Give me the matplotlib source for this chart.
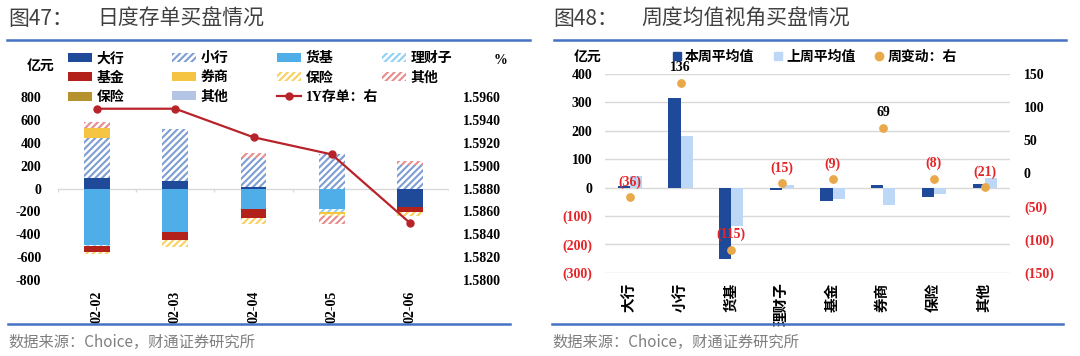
import numpy as np
import matplotlib
matplotlib.use("Agg")
import matplotlib.pyplot as plt
from matplotlib.lines import Line2D

plt.rcParams['font.family'] = ['Liberation Serif', 'Noto Sans CJK SC']
plt.rcParams['font.weight'] = 'bold'
plt.rcParams['axes.unicode_minus'] = False
plt.rcParams['hatch.linewidth'] = 1.5

# ---- data: left chart (daily) ----
dates = ['02-02', '02-03', '02-04', '02-05', '02-06']
big_bank = [95, 65, 15, 0, -165]
small_bank = [350, 455, 250, 305, 210]
money_fund = [-493, -380, -182, -176, 0]
wealth_sub = [-12, 0, 0, -30, 0]
fund = [-50, -70, -76, 0, -38]
broker = [90, 0, 0, -14, 0]
insurance_h = [-20, -65, -50, -20, -35]
other_h = [45, 0, 43, -68, 35]
insurance_s = [0, 0, 0, 0, 0]
other_s = [0, 0, 0, 0, 0]
cd_1y = [1.5950, 1.5950, 1.5925, 1.5910, 1.5850]

# ---- data: right chart (weekly avg) ----
cats = ['大行', '小行', '货基', '理财子', '基金', '券商', '保险', '其他']
this_week = [4, 316, -250, -7, -48, 8, -32, 12]
last_week = [40, 180, -135, 8, -39, -61, -24, 33]
wk_change = [-36, 136, -115, -15, -9, 69, -8, -21]

W, H = 1080, 356
fig = plt.figure(figsize=(W / 100, H / 100), dpi=100)

DARK = '#1F4A9A'
RED_TXT = '#E3262A'
GRID = '#D9D9D9'
NUM = dict(family='Liberation Serif', weight='bold', size=10)


def paren(v):
    return f'({abs(int(v))})' if v < 0 else f'{int(v)}'


# ================= left chart =================
ax1 = fig.add_axes([58 / W, 1 - 280 / H, 391 / W, 182.7 / H])
x = np.arange(len(dates))
series = [
    ('大行', big_bank, DARK, None),
    ('小行', small_bank, '#7D9ED3', '/////'),
    ('货基', money_fund, '#4FADE8', None),
    ('理财子', wealth_sub, '#8ED0F4', '/////'),
    ('基金', fund, '#B3221A', None),
    ('券商', broker, '#F5C443', None),
    ('保险', insurance_h, '#F7D15E', '/////'),
    ('其他', other_h, '#E88C8C', '/////'),
    ('保险', insurance_s, '#B8912F', None),
    ('其他', other_s, '#B4C4E4', None),
]
pos = np.zeros(len(dates))
neg = np.zeros(len(dates))
bars = []
for name, vals, col, hatch in series:
    v = np.array(vals, dtype=float)
    bottom = np.where(v >= 0, pos, neg)
    if hatch:
        b = ax1.bar(x, v, 0.33, bottom=bottom, color='white', edgecolor=col,
                    hatch=hatch, linewidth=0, label=name)
    else:
        b = ax1.bar(x, v, 0.33, bottom=bottom, color=col, linewidth=0, label=name)
    bars.append(b)
    pos = pos + np.where(v > 0, v, 0)
    neg = neg + np.where(v < 0, v, 0)

ax1.axhline(0, color=GRID, lw=1, zorder=0)
ax1.vlines(np.arange(-0.5, len(dates), 1), -25, 0, color=GRID, lw=1)
ax1.set_xlim(-0.5, len(dates) - 0.5)
ax1.set_ylim(-800, 800)
ax1.set_yticks(range(-800, 801, 200))
ax1.set_yticklabels([str(t) for t in range(-800, 801, 200)], **NUM)
ax1.set_xticks(x)
ax1.set_xticklabels(dates, rotation=90, **NUM)
ax1.tick_params(axis='y', length=0, pad=12)
ax1.tick_params(axis='x', length=0, pad=8)
for s in ax1.spines.values():
    s.set_visible(False)

ax1r = ax1.twinx()
line, = ax1r.plot(x, cd_1y, color='#B8232A', lw=1.6, marker='o', ms=5,
                  label='1Y存单：右')
ax1r.set_ylim(1.58, 1.596)
rt = [1.58 + 0.002 * i for i in range(9)]
ax1r.set_yticks(rt)
ax1r.set_yticklabels([f'{t:.4f}' for t in rt], **NUM)
ax1r.tick_params(axis='y', length=0, pad=10)
for s in ax1r.spines.values():
    s.set_visible(False)

# legend laid out by columns like the original
cols = [[0, 4, 8], [1, 5, 9], [2, 6, 'line'], [3, 7]]
col_x = [68, 172, 277, 382]
for cx, idxs in zip(col_x, cols):
    hs = [line if i == 'line' else bars[i] for i in idxs]
    ls = ['1Y存单：右' if i == 'line' else series[i][0] for i in idxs]
    fig.legend(hs, ls, loc='upper left', bbox_to_anchor=(cx / W, 1 - 52 / H),
               frameon=False, fontsize=10, handlelength=1.75, handleheight=0.6,
               handletextpad=0.3, labelspacing=0.45, borderpad=0, borderaxespad=0)

fig.text(27 / W, 1 - 66 / H, '亿元', fontsize=10, ha='left', va='center')
fig.text(494 / W, 1 - 60 / H, '%', fontsize=10, ha='left', va='center')

# ================= right chart =================
ax2 = fig.add_axes([604.6 / W, 1 - 272.7 / H, 405.4 / W, 198.7 / H])
xi = np.arange(len(cats))
ax2.bar(xi - 0.12, this_week, 0.24, color=DARK, label='本周平均值', zorder=2)
ax2.bar(xi + 0.12, last_week, 0.24, color='#BDD7F6', label='上周平均值', zorder=2)
ax2.set_xlim(-0.5, len(cats) - 0.5)
ax2.set_ylim(-300, 400)
lt = list(range(-300, 401, 100))
ax2.set_yticks(lt)
ax2.set_yticklabels([paren(t) for t in lt], **NUM)
for t, lab in zip(lt, ax2.get_yticklabels()):
    lab.set_color(RED_TXT if t < 0 else 'black')
ax2.yaxis.grid(True, color=GRID, lw=1)
ax2.set_axisbelow(True)
ax2.set_xticks(xi)
ax2.set_xticklabels(cats, rotation=90, fontsize=10.5, weight='bold')
ax2.tick_params(axis='y', length=0, pad=9)
ax2.tick_params(axis='x', length=0, pad=7)
for s in ax2.spines.values():
    s.set_visible(False)

ax2r = ax2.twinx()
ax2r.scatter(xi, wk_change, s=28, color='#E9A94B', zorder=3, label='周变动：右')
for xv, v in zip(xi, wk_change):
    ax2r.annotate(paren(v), (xv, v), xytext=(0, 11), textcoords='offset points',
                  ha='center', va='center', color=RED_TXT if v < 0 else 'black',
                  **NUM)
ax2r.set_ylim(-150, 150)
rt2 = [-150, -100, -50, 0, 50, 100, 150]
ax2r.set_yticks(rt2)
ax2r.set_yticklabels([paren(t) for t in rt2], **NUM)
for t, lab in zip(rt2, ax2r.get_yticklabels()):
    lab.set_color(RED_TXT if t < 0 else 'black')
ax2r.tick_params(axis='y', length=0, pad=10)
for s in ax2r.spines.values():
    s.set_visible(False)

h2 = [Line2D([], [], marker='s', ls='none', color=DARK, ms=6),
      Line2D([], [], marker='s', ls='none', color='#BDD7F6', ms=6),
      Line2D([], [], marker='o', ls='none', color='#E9A94B', ms=6)]
fig.legend(h2, ['本周平均值', '上周平均值', '周变动：右'], loc='center',
           bbox_to_anchor=(814 / W, 1 - 57 / H), ncol=3, frameon=False,
           fontsize=10, handlelength=0.8, handletextpad=0.2, columnspacing=1.3,
           borderpad=0, borderaxespad=0)
fig.text(574 / W, 1 - 57 / H, '亿元', fontsize=10, ha='left', va='center')

# ================= titles, rules, source =================
TITLE = dict(family='Noto Sans CJK SC', weight='normal', size=15,
             color='#404040', va='center', ha='left')
fig.text(8 / W, 1 - 19 / H, '图47：', **TITLE)
fig.text(97 / W, 1 - 19 / H, '日度存单买盘情况', **TITLE)
fig.text(553 / W, 1 - 19 / H, '图48：', **TITLE)
fig.text(641 / W, 1 - 19 / H, '周度均值视角买盘情况', **TITLE)

RULE = '#4472C4'
for x0, x1, y in [(7, 530, 40), (554, 1066, 40), (8, 510, 324), (552, 1063, 324)]:
    fig.add_artist(Line2D([x0 / W, x1 / W], [1 - y / H, 1 - y / H],
                          color=RULE, lw=1.8, transform=fig.transFigure))

SRC = dict(family='Noto Sans CJK SC', weight='normal', size=11,
           color='#7F7F7F', va='center', ha='left')
fig.text(8 / W, 1 - 342 / H, '数据来源：Choice，财通证券研究所', **SRC)
fig.text(552 / W, 1 - 342 / H, '数据来源：Choice，财通证券研究所', **SRC)

fig.savefig('out.png', dpi=100)
